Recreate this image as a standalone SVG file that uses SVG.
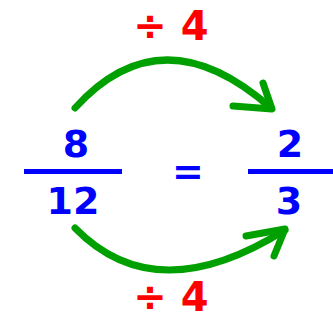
<svg xmlns="http://www.w3.org/2000/svg" width="333" height="321" viewBox="0 0 333 321">
<style>
.op{font-family:"DejaVu Sans","Liberation Sans",sans-serif;font-weight:bold;font-size:40px;fill:#ff0000;text-anchor:middle}
.num{font-family:"DejaVu Sans","Liberation Sans",sans-serif;font-weight:bold;font-size:38px;fill:#0000ff;text-anchor:middle}
.bar{fill:#0000ff}
.arc{fill:none;stroke:#00a000;stroke-width:7;stroke-linecap:round;stroke-linejoin:round}
</style>
<rect width="333" height="321" fill="#ffffff"/>
<g id="connectors">
<path class="arc" d="M75 108 Q162 12 271 108"/>
<polyline class="arc" points="263,83 272,109 233,106"/>
<path class="arc" d="M75 228 Q156 311 285 230"/>
<polyline class="arc" points="246,236 285,229 274,256"/>
</g>
<g id="label-top"><text class="op" x="171" y="40">÷ 4</text></g>
<g id="label-bottom"><text class="op" x="171" y="311">÷ 4</text></g>
<g id="fraction-left">
<text class="num" x="76" y="157">8</text>
<rect class="bar" x="24" y="169" width="98" height="5"/>
<text class="num" x="73" y="214">12</text>
</g>
<g id="equals"><text class="num" x="188" y="184">=</text></g>
<g id="fraction-right">
<text class="num" x="290" y="157">2</text>
<rect class="bar" x="248" y="169" width="85" height="5"/>
<text class="num" x="289" y="214">3</text>
</g>
</svg>
